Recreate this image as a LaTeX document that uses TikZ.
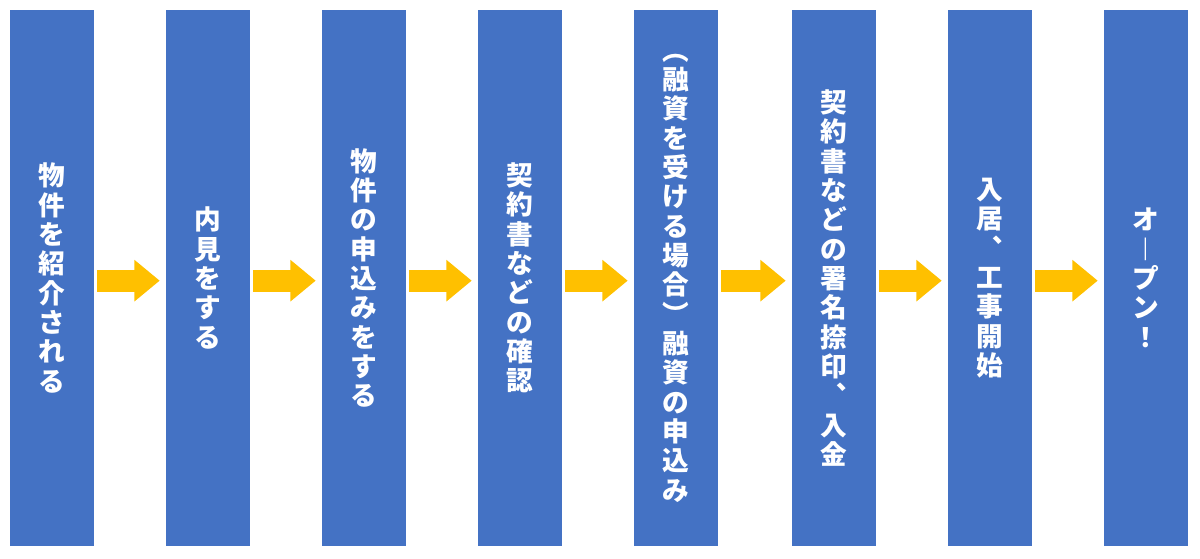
\documentclass[tikz,border=0pt]{standalone}
\usepackage{fontspec}
\newfontfamily\cjk{Noto Sans CJK JP}
\usepackage{tikz}
\usetikzlibrary{positioning,arrows.meta}

\definecolor{stepblue}{HTML}{4472C4}
\definecolor{flowyellow}{HTML}{FFC000}

\begin{document}
\begin{tikzpicture}[
      x=0.75pt, y=-0.75pt,
      column/.style={rectangle, fill=stepblue, minimum width=63pt, minimum height=402pt,
        inner sep=0pt, text=white, align=center,
        font=\cjk\bfseries\fontsize{20}{22}\selectfont},
      flow/.style={draw=flowyellow, line width=16.5pt,
        -{Triangle[length=19pt,width=30pt]}, shorten <=2pt, shorten >=4.5pt}
    ]
    \useasboundingbox (0,0) rectangle (1200,559);

    \node [column] (s1) at (52,278) {物\\件\\を\\紹\\介\\さ\\れ\\る};
    \node [column] (s2) at (208,278) {内\\見\\を\\す\\る};
    \node [column] (s3) at (364,278) {物\\件\\の\\申\\込\\み\\を\\す\\る};
    \node [column] (s4) at (520,278) {契\\約\\書\\な\\ど\\の\\確\\認};
    \node [column] (s5) at (676,278) {︵\\融\\資\\を\\受\\け\\る\\場\\合\\︶\\融\\資\\の\\申\\込\\み};
    \node [column] (s6) at (834,278) {契\\約\\書\\な\\ど\\の\\署\\名\\捺\\印\\︑\\入\\金};
    \node [column] (s7) at (990,278) {入\\居\\︑\\工\\事\\開\\始};
    \node [column] (s8) at (1146,278) {オ\\︱\\プ\\ン\\！};

    \foreach \a/\b in {s1/s2, s2/s3, s3/s4, s4/s5, s5/s6, s6/s7, s7/s8}
      \draw [flow] ([yshift=-2pt]\a.east) -- ([yshift=-2pt]\b.west);

\end{tikzpicture}
\end{document}
